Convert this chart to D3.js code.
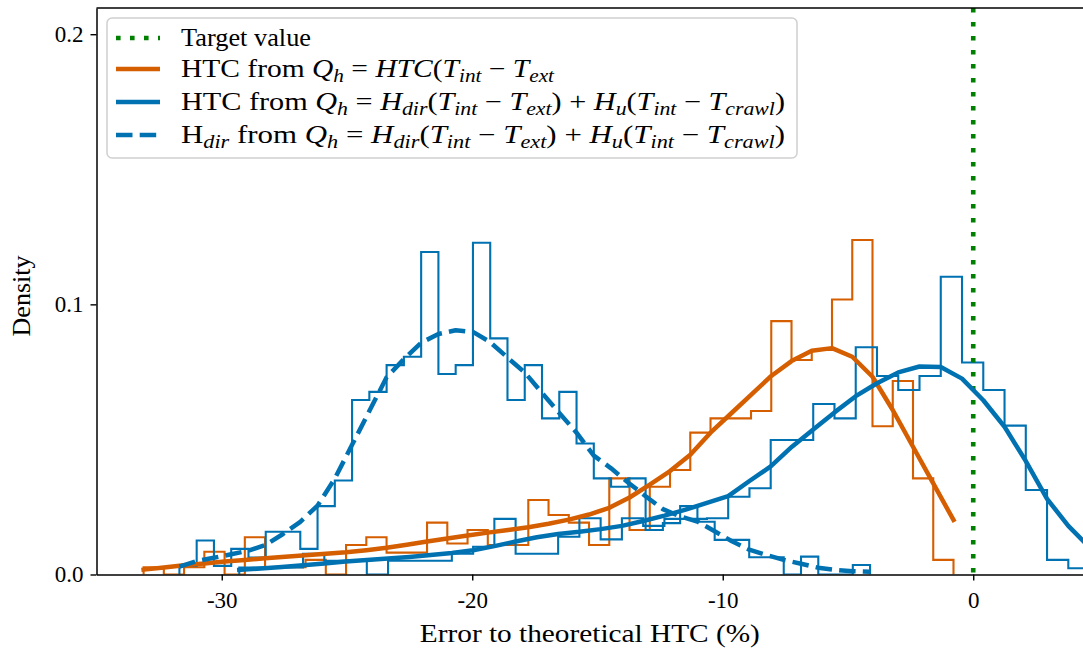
<!DOCTYPE html>
<html><head><meta charset="utf-8">
<script src="https://cdn.jsdelivr.net/npm/d3@7"></script>
<style>html,body{margin:0;padding:0;background:#fff;} svg{display:block;}</style>
</head><body>
<svg id="chart" width="1083" height="653"></svg>
<script>
// ---------------- data ----------------
const xTickValues = [-30, -20, -10, 0];
const xTickLabels = ["-30", "-20", "-10", "0"];
const yTickValues = [0, 0.1, 0.2];
const yTickLabels = ["0.0", "0.1", "0.2"];
const targetValue = 0;
const xLabel = "Error to theoretical HTC (%)";
const yLabel = "Density";

// HTC from Q_h = HTC(T_int - T_ext)  (orange)
const orangeBinStart = -33.12, orangeBinWidth = 0.8083;
const orangeDensity = [0.0027, 0.0, 0.0027, 0.0084, 0.0, 0.0138, 0.0027, 0.0027, 0.0054, 0.0,
  0.0109, 0.0138, 0.0081, 0.0081, 0.0192, 0.0115, 0.0165, 0.0109, 0.0109, 0.0276,
  0.0220, 0.0192, 0.0109, 0.0356, 0.0165, 0.0325, 0.0387, 0.0525, 0.0578, 0.0578,
  0.0605, 0.0938, 0.0794, 0.0831, 0.1018, 0.1238, 0.0549, 0.0716, 0.0356, 0.0054];
const orangeKde = [0.0018, 0.0026, 0.0034, 0.0041, 0.0048, 0.0054, 0.0060, 0.0066, 0.0071, 0.0077,
  0.0082, 0.0090, 0.0099, 0.0110, 0.0122, 0.0133, 0.0144, 0.0155, 0.0165, 0.0175,
  0.0188, 0.0203, 0.0222, 0.0247, 0.0285, 0.0333, 0.0383, 0.0443, 0.0525, 0.0595,
  0.0665, 0.0735, 0.0790, 0.0828, 0.0838, 0.0806, 0.0732, 0.0609, 0.0473, 0.0337, 0.0202];

// HTC from Q_h = H_dir(...) + H_u(...)  (blue solid)
const htcBinStart = -29.30, htcBinWidth = 0.8486;
const htcDensity = [0.0026, 0.0026, 0.0026, 0.0077, 0.0051, 0.0051, 0.0, 0.0051, 0.0051, 0.0051,
  0.0077, 0.0103, 0.0206, 0.0077, 0.0077, 0.0140, 0.0208, 0.0130, 0.0208, 0.0180,
  0.0206, 0.0206, 0.0208, 0.0288, 0.0319, 0.0498, 0.0498, 0.0631, 0.0578, 0.0841,
  0.0735, 0.0683, 0.0735, 0.1102, 0.0785, 0.0683, 0.0551, 0.0313, 0.0054, 0.0023];
const htcKde = [0.0017, 0.0022, 0.0028, 0.0034, 0.0041, 0.0048, 0.0054, 0.0059, 0.0065, 0.0072,
  0.0080, 0.0090, 0.0105, 0.0122, 0.0138, 0.0150, 0.0158, 0.0168, 0.0180, 0.0198,
  0.0218, 0.0240, 0.0265, 0.0290, 0.0346, 0.0400, 0.0473, 0.0537, 0.0600, 0.0660,
  0.0708, 0.0748, 0.0770, 0.0768, 0.0725, 0.0645, 0.0547, 0.0420, 0.0280, 0.0180, 0.0100];

// H_dir from Q_h = H_dir(...) + H_u(...)  (blue dashed)
const hdirBinStart = -31.69, hdirBinWidth = 0.6893;
const hdirDensity = [0.0032, 0.0126, 0.0032, 0.0095, 0.0063, 0.0158, 0.0158, 0.0095, 0.0253, 0.0348,
  0.0646, 0.0676, 0.0775, 0.0806, 0.1194, 0.0742, 0.0775, 0.1228, 0.0874, 0.0646,
  0.0775, 0.0578, 0.0676, 0.0485, 0.0356, 0.0325, 0.0356, 0.0165, 0.0190, 0.0253,
  0.0195, 0.0128, 0.0128, 0.0064, 0.0064, 0.0, 0.0066, 0.0, 0.0, 0.0035];
const hdirKde = [0.0029, 0.0050, 0.0062, 0.0075, 0.0088, 0.0110, 0.0150, 0.0195, 0.0255, 0.0355,
  0.0480, 0.0605, 0.0730, 0.0797, 0.0858, 0.0890, 0.0904, 0.0898, 0.0860, 0.0803,
  0.0748, 0.0672, 0.0598, 0.0525, 0.0440, 0.0393, 0.0340, 0.0290, 0.0242, 0.0215,
  0.0196, 0.0160, 0.0123, 0.0092, 0.0072, 0.0054, 0.0040, 0.0025, 0.0017, 0.0012, 0.0010];

// legend labels: [text, style] n = upright, i = math italic, s = italic subscript
const eqTail = [[" = ","n"],["H","i"],["dir","s"],["(","n"],["T","i"],["int","s"],[" − ","n"],["T","i"],["ext","s"],[") + ","n"],["H","i"],["u","s"],["(","n"],["T","i"],["int","s"],[" − ","n"],["T","i"],["crawl","s"],[")","n"]];
const legendLabels = [
  [["Target value","n"]],
  [["HTC from ","n"],["Q","i"],["h","s"],[" = ","n"],["HTC","i"],["(","n"],["T","i"],["int","s"],[" − ","n"],["T","i"],["ext","s"]],
  [["HTC from ","n"],["Q","i"],["h","s"]].concat(eqTail),
  [["H","n"],["dir","s"],[" from ","n"],["Q","i"],["h","s"]].concat(eqTail)
];

// ---------------- drawing ----------------
const W = 1083, H = 653;
const colOrange = "#d55e00", colBlue = "#0072b2", colGreen = "#008000";
const FONT = "'Liberation Serif', 'Times New Roman', serif";
const plotL = 96.5, plotT = 8, plotB = 574.5, plotR = 1083.2;

const svg = d3.select("#chart");
const x = d3.scaleLinear().domain([-35, 4.39]).range([plotL, plotR]);
const y = d3.scaleLinear().domain([0, 0.2097]).range([plotB, plotT]);

svg.append("defs").append("clipPath").attr("id", "clip")
  .append("rect").attr("x", plotL).attr("y", plotT).attr("width", plotR - plotL).attr("height", plotB - plotT);

const plot = svg.append("g").attr("clip-path", "url(#clip)");
const line = d3.line().x(d => x(d[0])).y(d => y(d[1]));

function stepPoints(start, width, dens) {
  const pts = [[start, 0]];
  dens.forEach((d, i) => { pts.push([start + i * width, d]); pts.push([start + (i + 1) * width, d]); });
  pts.push([start + dens.length * width, 0]);
  return pts;
}
function kdePoints(start, width, vals) { return vals.map((v, i) => [start + i * width, v]); }

// histograms (below lines)
const hists = [
  {s: orangeBinStart, w: orangeBinWidth, d: orangeDensity, c: colOrange},
  {s: htcBinStart, w: htcBinWidth, d: htcDensity, c: colBlue},
  {s: hdirBinStart, w: hdirBinWidth, d: hdirDensity, c: colBlue}
];
hists.forEach(h => {
  plot.append("path").attr("d", line(stepPoints(h.s, h.w, h.d)))
    .attr("fill", "none").attr("stroke", h.c).attr("stroke-width", 2.1)
    .attr("stroke-linejoin", "miter");
});

// target line
plot.append("line").attr("x1", x(targetValue)).attr("x2", x(targetValue))
  .attr("y1", plotT).attr("y2", plotB)
  .attr("stroke", colGreen).attr("stroke-width", 4.6).attr("stroke-dasharray", "4.6,9.4");

// KDE lines
plot.append("path").attr("d", line(kdePoints(orangeBinStart, orangeBinWidth, orangeKde)))
  .attr("fill", "none").attr("stroke", colOrange).attr("stroke-width", 4.5)
  .attr("stroke-linecap", "square").attr("stroke-linejoin", "round");
plot.append("path").attr("d", line(kdePoints(htcBinStart, htcBinWidth, htcKde)))
  .attr("fill", "none").attr("stroke", colBlue).attr("stroke-width", 4.5)
  .attr("stroke-linecap", "square").attr("stroke-linejoin", "round");
plot.append("path").attr("d", line(kdePoints(hdirBinStart, hdirBinWidth, hdirKde)))
  .attr("fill", "none").attr("stroke", colBlue).attr("stroke-width", 4.5)
  .attr("stroke-dasharray", "16.5,7.2").attr("stroke-linejoin", "round");

// axes
const xAxis = d3.axisBottom(x).tickValues(xTickValues)
  .tickFormat((d, i) => xTickLabels[i]).tickSize(6).tickSizeOuter(0).tickPadding(11);
const yAxis = d3.axisLeft(y).tickValues(yTickValues)
  .tickFormat((d, i) => yTickLabels[i]).tickSize(6).tickSizeOuter(0).tickPadding(7);

const gx = svg.append("g").attr("transform", `translate(0,${plotB})`).call(xAxis);
const gy = svg.append("g").attr("transform", `translate(${plotL},0)`).call(yAxis);
[gx, gy].forEach(g => {
  g.select(".domain").attr("stroke", "#000").attr("stroke-width", 1.5);
  g.selectAll(".tick line").attr("stroke", "#000").attr("stroke-width", 1.4);
  g.selectAll(".tick text").attr("font-family", FONT).attr("font-size", 23).attr("fill", "#000");
});
// top spine
svg.append("line").attr("x1", plotL).attr("x2", plotR).attr("y1", plotT).attr("y2", plotT)
  .attr("stroke", "#000").attr("stroke-width", 1.5);

// axis labels
svg.append("text").attr("x", (plotL + plotR) / 2).attr("y", 642)
  .attr("text-anchor", "middle").attr("font-family", FONT).attr("font-size", 26)
  .attr("textLength", 340).attr("lengthAdjust", "spacingAndGlyphs").text(xLabel);
svg.append("text").attr("transform", "translate(30,296) rotate(-90)")
  .attr("text-anchor", "middle").attr("font-family", FONT).attr("font-size", 26).text(yLabel);

// legend
const lg = svg.append("g");
lg.append("rect").attr("x", 107).attr("y", 18).attr("width", 690).attr("height", 140)
  .attr("rx", 5).attr("fill", "#fff").attr("fill-opacity", 0.8)
  .attr("stroke", "#d0d0d0").attr("stroke-width", 1.5);
const rowY = [38, 69, 102, 135];
const rowWidth = [130, 373, 604, 604];
const handles = [
  {c: colGreen, w: 4.6, dash: "4.6,9.4", cap: "butt"},
  {c: colOrange, w: 4.5, dash: null, cap: "butt"},
  {c: colBlue, w: 4.5, dash: null, cap: "butt"},
  {c: colBlue, w: 4.5, dash: "16.5,7.2", cap: "butt"}
];
legendLabels.forEach((segs, r) => {
  const h = handles[r];
  const hl = lg.append("line").attr("x1", 116).attr("x2", 160).attr("y1", rowY[r]).attr("y2", rowY[r])
    .attr("stroke", h.c).attr("stroke-width", h.w).attr("stroke-linecap", h.cap);
  if (h.dash) hl.attr("stroke-dasharray", h.dash);
  const t = lg.append("text").attr("x", 181).attr("y", rowY[r] + 8)
    .attr("font-family", FONT).attr("font-size", 25).attr("fill", "#000")
    .attr("textLength", rowWidth[r]).attr("lengthAdjust", "spacingAndGlyphs");
  let inSub = false;
  segs.forEach(([txt, st]) => {
    const ts = t.append("tspan").text(txt).attr("xml:space", "preserve");
    if (st === "s") {
      ts.attr("font-style", "italic").attr("font-size", 18);
      if (!inSub) { ts.attr("dy", 5); inSub = true; }
    } else {
      if (st === "i") ts.attr("font-style", "italic");
      if (inSub) { ts.attr("dy", -5); inSub = false; }
    }
  });
});
</script>
</body></html>
